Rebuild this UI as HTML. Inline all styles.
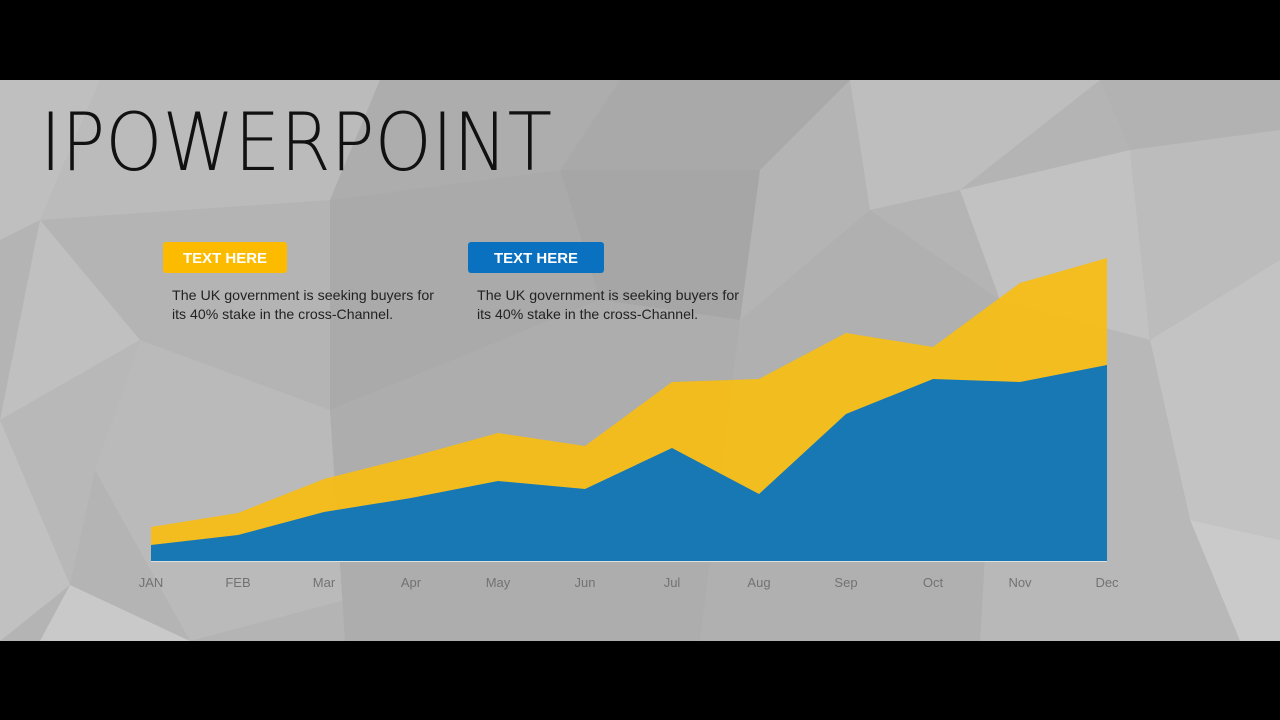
<!DOCTYPE html>
<html><head><meta charset="utf-8"><style>
html,body{margin:0;padding:0;background:#000;}
.wrap{position:relative;width:1280px;height:720px;overflow:hidden;background:#000;font-family:"Liberation Sans",sans-serif;}
</style></head><body><div class="wrap">
<svg width="1280" height="720" style="position:absolute;left:0;top:0">
<rect x="0" y="80" width="1280" height="561" fill="#b3b4b3"/>
<g>
<polygon points="0,80 100,80 40,220 0,240" fill="#bebfbe"/>
<polygon points="100,80 380,80 330,200 40,220" fill="#babbba"/>
<polygon points="40,220 140,340 0,420" fill="#bfc0bf"/>
<polygon points="0,420 140,340 95,470 70,585" fill="#b7b8b7"/>
<polygon points="0,420 70,585 0,641" fill="#c0c1c0"/>
<polygon points="70,585 190,641 40,641" fill="#c8c9c8"/>
<polygon points="140,340 330,410 345,600 190,641 95,470" fill="#b9bab9"/>
<polygon points="380,80 620,80 560,170 330,200" fill="#acadac"/>
<polygon points="330,200 560,170 600,300 330,410" fill="#a9aaa9"/>
<polygon points="560,170 760,170 740,320 600,300" fill="#a5a6a5"/>
<polygon points="620,80 850,80 760,170 560,170" fill="#a8a9a8"/>
<polygon points="850,80 1100,80 960,190 870,210" fill="#bdbebd"/>
<polygon points="1100,80 1280,80 1280,130 1130,150" fill="#b1b2b1"/>
<polygon points="960,190 1130,150 1150,340 1000,300" fill="#c1c2c1"/>
<polygon points="1130,150 1280,130 1280,260 1150,340" fill="#bbbcbb"/>
<polygon points="1150,340 1280,260 1280,540 1190,520" fill="#c2c3c2"/>
<polygon points="1190,520 1280,540 1280,641 1240,641" fill="#c9cac9"/>
<polygon points="330,410 600,300 740,320 700,641 345,641" fill="#acadac"/>
<polygon points="740,320 870,210 1000,300 980,641 700,641" fill="#afb0af"/>
<polygon points="1000,300 1150,340 1190,520 1240,641 980,641" fill="#b7b8b7"/>
</g>
<polygon fill="#f8bd13" fill-opacity="0.93" points="151,561 151,527 238,513 324,479 411,457 498,433 585,446 672,382 759,379 846,333 933,347 1020,283 1107,258 1107,561"/>
<polygon fill="#1878b4" points="151,561 151,545 238,535 324,512 411,498 498,481 585,489 672,448 759,494 846,414 933,379 1020,382 1107,365 1107,561"/>
<line x1="151" y1="561.5" x2="1107" y2="561.5" stroke="#e0e0e0" stroke-width="1"/>
<g font-family="Liberation Sans, sans-serif" font-size="13" fill="#727272" text-anchor="middle">
<text x="151" y="587">JAN</text><text x="238" y="587">FEB</text><text x="324" y="587">Mar</text>
<text x="411" y="587">Apr</text><text x="498" y="587">May</text><text x="585" y="587">Jun</text>
<text x="672" y="587">Jul</text><text x="759" y="587">Aug</text><text x="846" y="587">Sep</text>
<text x="933" y="587">Oct</text><text x="1020" y="587">Nov</text><text x="1107" y="587">Dec</text>
</g>
<text x="40" y="170" font-family="DejaVu Sans ExtraLight, DejaVu Sans, sans-serif" font-weight="200" font-size="80" fill="#111" textLength="512" lengthAdjust="spacingAndGlyphs">IPOWERPOINT</text>
<rect x="163" y="242" width="124" height="31" rx="3" fill="#fdbb00"/>
<rect x="468" y="242" width="136" height="31" rx="3" fill="#0a70c0"/>
<g font-family="Liberation Sans, sans-serif" font-size="15" font-weight="bold" fill="#fff" text-anchor="middle">
<text x="225" y="263" textLength="84" lengthAdjust="spacingAndGlyphs">TEXT HERE</text><text x="536" y="263" textLength="84" lengthAdjust="spacingAndGlyphs">TEXT HERE</text></g>
<g font-family="Liberation Sans, sans-serif" font-size="14" fill="#222">
<text x="172" y="300" textLength="262" lengthAdjust="spacingAndGlyphs">The UK government is seeking buyers for</text>
<text x="172" y="319" textLength="221" lengthAdjust="spacingAndGlyphs">its 40% stake in the cross-Channel.</text>
<text x="477" y="300" textLength="262" lengthAdjust="spacingAndGlyphs">The UK government is seeking buyers for</text>
<text x="477" y="319" textLength="221" lengthAdjust="spacingAndGlyphs">its 40% stake in the cross-Channel.</text>
</g>
</svg>
</div></body></html>
